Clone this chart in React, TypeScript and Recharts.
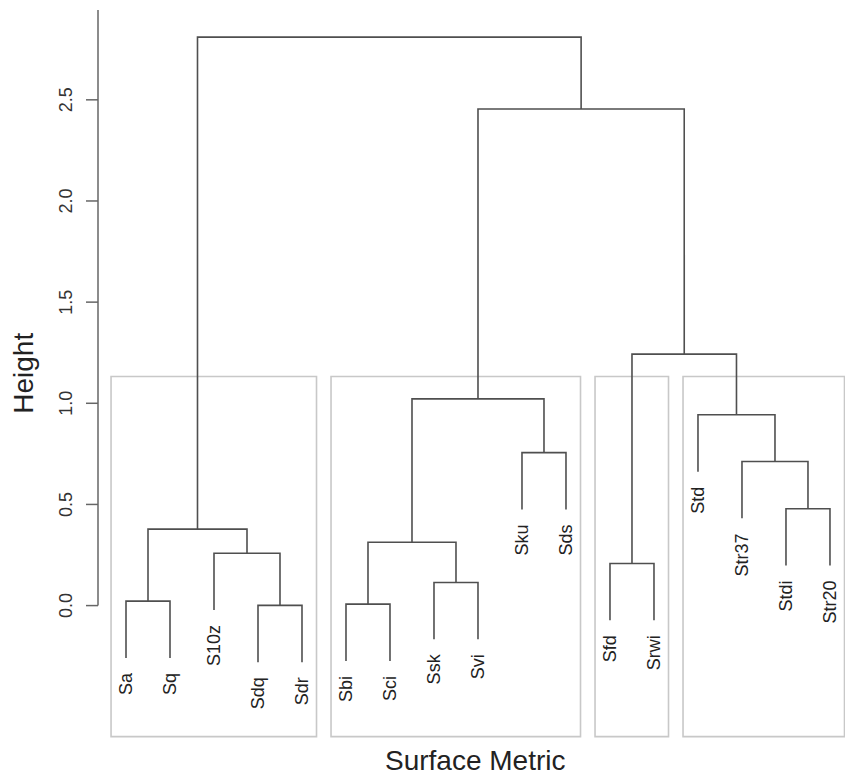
import React from 'react';
import { ComposedChart, Line, Scatter, XAxis, YAxis, ReferenceArea, ReferenceLine } from 'recharts';

// leaves in plotting order
const leafLabels = ['Sa', 'Sq', 'S10z', 'Sdq', 'Sdr', 'Sbi', 'Sci', 'Ssk', 'Svi', 'Sku', 'Sds', 'Sfd', 'Srwi', 'Std', 'Str37', 'Stdi', 'Str20'];

// hclust style merge table: negative = leaf number, positive = earlier merge row
const mergeLeft = [-4, -6, -1, -8, -12, -3, 2, 3, -16, -15, -10, -14, 7, 5, 13, 8];
const mergeRight = [-5, -7, -2, -9, -13, 1, 4, 6, -17, 9, -11, 10, 11, 12, 14, 15];
const mergeHeight = [0.001, 0.007, 0.022, 0.114, 0.208, 0.259, 0.313, 0.378, 0.479, 0.712, 0.756, 0.943, 1.022, 1.243, 2.455, 2.81];

// rect.hclust(k = 4) groups
const clusterSizes = [5, 6, 2, 4];

const yTicks = [0, 0.5, 1, 1.5, 2, 2.5];

const X_MIN = 0.3636;
const X_MAX = 17.33;
const Y_MIN = -0.6476;
const Y_MAX = 2.944;
const HANG = 0.1;

const FONT = '"Liberation Sans", Arial, Helvetica, sans-serif';
const LINE = '#4f4f4f';

// dendrogram layout
const maxH = Math.max(...mergeHeight);
const minH = Math.min(...mergeHeight);
const hang = HANG * (maxH - minH);
const nodeX: number[] = [];
const childX = (ref: number) => (ref < 0 ? -ref : nodeX[ref - 1]);
const childY = (ref: number, h: number) => (ref < 0 ? h - hang : mergeHeight[ref - 1]);
const leafBottom: number[] = new Array(leafLabels.length).fill(0);

const segments = mergeHeight.map((h, i) => {
  const l = mergeLeft[i];
  const r = mergeRight[i];
  const xl = childX(l);
  const xr = childX(r);
  nodeX[i] = (xl + xr) / 2;
  if (l < 0) leafBottom[-l - 1] = h - hang;
  if (r < 0) leafBottom[-r - 1] = h - hang;
  return [
    { x: xl, y: childY(l, h) },
    { x: xl, y: h },
    { x: xr, y: h },
    { x: xr, y: childY(r, h) },
  ];
});

const leafPoints = leafLabels.map((name, i) => ({ x: i + 1, y: leafBottom[i], name }));

const sortedH = [...mergeHeight].sort((a, b) => b - a);
const k = clusterSizes.length;
const boxTop = (sortedH[k - 2] + sortedH[k - 1]) / 2;
const boxes = clusterSizes.map((n, i) => {
  const start = clusterSizes.slice(0, i).reduce((a, b) => a + b, 0);
  return { x1: start + 0.66, x2: start + n + 0.33 };
});

const LeafLabel = (props: any) => {
  const { cx, cy, payload } = props;
  const ax = cx;
  const ay = cy + 15;
  return (
    <text
      x={ax}
      y={ay}
      dy="0.35em"
      textAnchor="end"
      transform={`rotate(-90 ${ax} ${ay})`}
      fontFamily={FONT}
      fontSize={18}
      fill="#222"
    >
      {payload.name}
    </text>
  );
};

const YTick = (props: any) => {
  const { x, y, payload } = props;
  const ax = x - 20.5;
  return (
    <text
      x={ax}
      y={y}
      dy="0.35em"
      textAnchor="middle"
      transform={`rotate(-90 ${ax} ${y})`}
      fontFamily={FONT}
      fontSize={18}
      fill="#333"
    >
      {Number(payload.value).toFixed(1)}
    </text>
  );
};

const HeightLabel = (props: any) => {
  const vb = props.viewBox || { y: 10, height: 726.6 };
  const cy = vb.y + vb.height / 2;
  const cx = 23;
  return (
    <text
      x={cx}
      y={cy}
      dy="0.35em"
      textAnchor="middle"
      transform={`rotate(-90 ${cx} ${cy})`}
      fontFamily={FONT}
      fontSize={28}
      fill="#222"
    >
      Height
    </text>
  );
};

const MetricLabel = (props: any) => {
  const vb = props.viewBox || { x: 98, width: 746.5, y: 736.6 };
  return (
    <text
      x={vb.x + vb.width / 2 + 4}
      y={vb.y + 33}
      textAnchor="middle"
      fontFamily={FONT}
      fontSize={28}
      fill="#222"
    >
      Surface Metric
    </text>
  );
};

export default function App() {
  return (
    <div style={{ position: 'absolute', left: 0, top: 0, width: 845, height: 776, background: '#fff' }}>
      <ComposedChart width={845} height={776} margin={{ top: 10, right: 0.5, bottom: 0, left: 0 }}>
        <XAxis
          type="number"
          dataKey="x"
          domain={[X_MIN, X_MAX]}
          allowDataOverflow
          height={39.4}
          axisLine={false}
          tickLine={false}
          tick={false}
          label={<MetricLabel />}
        />
        <YAxis
          type="number"
          dataKey="y"
          domain={[Y_MIN, Y_MAX]}
          allowDataOverflow
          width={98}
          ticks={yTicks}
          tickSize={12}
          tickMargin={0}
          axisLine={false}
          tickLine={{ stroke: '#666', strokeWidth: 1.5 }}
          tick={<YTick />}
          label={<HeightLabel />}
        />
        {boxes.map((b, i) => (
          <ReferenceArea
            key={`box-${i}`}
            x1={b.x1}
            x2={b.x2}
            y1={Y_MIN}
            y2={boxTop}
            fill="none"
            fillOpacity={0}
            stroke="#c8c8c8"
            strokeWidth={1.6}
            ifOverflow="visible"
          />
        ))}
        <ReferenceLine
          segment={[{ x: X_MIN, y: 0 }, { x: X_MIN, y: Y_MAX }]}
          stroke="#666"
          strokeWidth={1.5}
          ifOverflow="visible"
        />
        {segments.map((seg, i) => (
          <Line
            key={`m-${i}`}
            data={seg}
            dataKey="y"
            type="linear"
            stroke={LINE}
            strokeWidth={1.6}
            dot={false}
            activeDot={false}
            isAnimationActive={false}
          />
        ))}
        <Scatter data={leafPoints} dataKey="y" shape={<LeafLabel />} isAnimationActive={false} />
      </ComposedChart>
    </div>
  );
}
